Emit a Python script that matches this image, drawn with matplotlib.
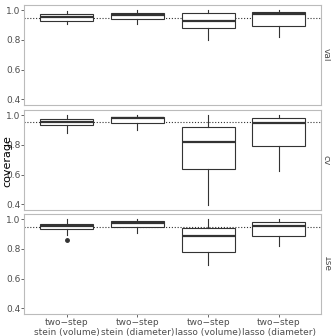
import matplotlib.pyplot as plt
import numpy as np

methods = ['two\u2212step\nstein (volume)', 'two\u2212step\nstein (diameter)',
           'two\u2212step\nlasso (volume)', 'two\u2212step\nlasso (diameter)']
panels = ['val', 'cv', '1se']

# per panel, per method: (whislo, q1, med, q3, whishi)
val_stats = [(0.904, 0.929, 0.951, 0.971, 0.995),
             (0.904, 0.942, 0.969, 0.978, 1.0),
             (0.80, 0.882, 0.929, 0.978, 1.0),
             (0.822, 0.893, 0.976, 0.989, 1.0)]
cv_stats = [(0.882, 0.936, 0.953, 0.971, 1.0),
            (0.90, 0.949, 0.982, 0.989, 1.0),
            (0.396, 0.636, 0.822, 0.918, 1.0),
            (0.627, 0.789, 0.949, 0.98, 1.0)]
se_stats = [(0.893, 0.931, 0.951, 0.967, 1.0),
            (0.904, 0.949, 0.971, 0.989, 1.0),
            (0.693, 0.776, 0.889, 0.938, 1.0),
            (0.816, 0.887, 0.953, 0.978, 1.0)]
se_outliers = [[0.86], [], [], []]
nominal = 0.95

all_stats = [val_stats, cv_stats, se_stats]
all_fliers = [[[], [], [], []], [[], [], [], []], se_outliers]

fig = plt.figure(figsize=(3.31, 3.36), dpi=100)
left, right = 24.5 / 331, 321 / 331
tops = [5, 110, 214]
h = 100
dark = '#333333'
border = '#BBBBBB'
txt = '#4D4D4D'

axes = []
for i, name in enumerate(panels):
    ax = fig.add_axes([left, 1 - (tops[i] + h) / 336, right - left, h / 336])
    axes.append(ax)
    stats = []
    for s, fl in zip(all_stats[i], all_fliers[i]):
        stats.append(dict(whislo=s[0], q1=s[1], med=s[2], q3=s[3], whishi=s[4], fliers=fl))
    ax.bxp(stats, positions=np.arange(1, 5), widths=0.75, patch_artist=True,
           showcaps=False,
           boxprops=dict(facecolor='white', edgecolor=dark, linewidth=0.8),
           medianprops=dict(color=dark, linewidth=1.6),
           whiskerprops=dict(color=dark, linewidth=0.8),
           flierprops=dict(marker='o', markerfacecolor=dark, markeredgecolor=dark, markersize=2.5))
    ax.axhline(nominal, color=dark, linestyle=(0, (1, 1.6)), linewidth=0.8, zorder=0)
    ax.set_xlim(0.4, 4.6)
    ax.set_ylim(0.362, 1.034)
    ax.set_yticks([0.4, 0.6, 0.8, 1.0])
    ax.set_yticklabels(['0.4', '0.6', '0.8', '1.0'])
    for sp in ax.spines.values():
        sp.set_color(border)
        sp.set_linewidth(0.8)
    ax.tick_params(axis='y', colors=txt, labelsize=6.5, length=2, width=0.6, pad=1)
    ax.tick_params(axis='x', length=2, width=0.6, colors=txt, labelsize=6.5, pad=1)
    ax.text(1.018, 0.5, name, transform=ax.transAxes, rotation=-90,
            ha='center', va='center', fontsize=6.5, color=txt)
    ax.set_xticks(np.arange(1, 5))
    if i < 2:
        ax.set_xticklabels([])
        ax.tick_params(axis='x', length=0)
    else:
        ax.set_xticklabels(methods, linespacing=1.1)

fig.text(0.008, 0.52, 'coverage', rotation=90, ha='left', va='center', fontsize=8, color='black')

plt.savefig('out.png', dpi=100)
